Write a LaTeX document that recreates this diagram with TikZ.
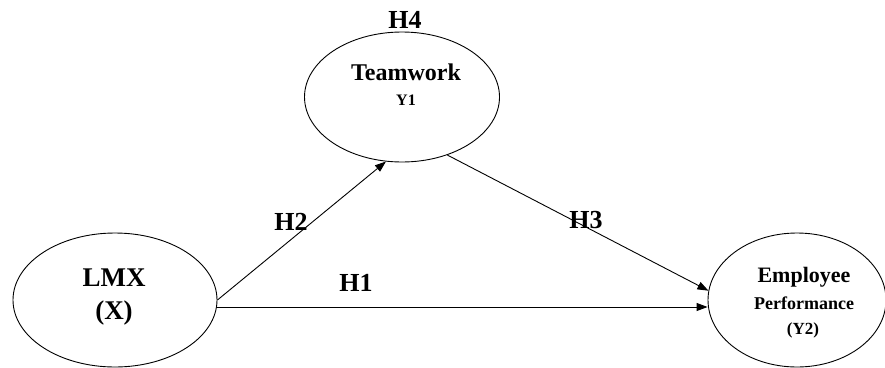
\documentclass[tikz,border=0pt]{standalone}
\usepackage{fontspec}
\setmainfont{Liberation Serif}
\usetikzlibrary{shapes.geometric,arrows.meta}
\begin{document}
\begin{tikzpicture}[x=1pt,y=-1pt,
  latent/.style={draw,ellipse,line width=0.9pt,inner sep=0pt},
  link/.style={line width=0.9pt,-{Triangle[length=11pt,width=8pt]}},
  hyp/.style={font=\bfseries\fontsize{26}{26}\selectfont}]
\useasboundingbox (0,0) rectangle (885,367);
\node[latent,minimum width=195pt,minimum height=130pt] (tw) at (402,97) {};
\node[latent,minimum width=204pt,minimum height=134pt] (lmx) at (115,300) {};
\node[latent,minimum width=178pt,minimum height=134pt] (ep) at (797,300) {};
\node[font=\bfseries\fontsize{24}{24}\selectfont] (twt) at (406,72) {Teamwork};
\node[font=\bfseries\fontsize{16}{16}\selectfont] (twy) at (406,100) {Y1};
\node[font=\bfseries\fontsize{27}{27}\selectfont] (lmxt) at (114,278) {LMX};
\node[font=\bfseries\fontsize{27}{27}\selectfont] (lmxx) at (114,313) {(X)};
\node[font=\bfseries\fontsize{22}{22}\selectfont] (ept) at (804,277) {Employee};
\node[font=\bfseries\fontsize{18}{18}\selectfont] (epp) at (804,303) {Performance};
\node[font=\bfseries\fontsize{17}{17}\selectfont] (epy) at (803,330) {(Y2)};
\node[hyp] (h4) at (405,20) {H4};
\node[hyp] (h2) at (291,222) {H2};
\node[hyp] (h3) at (586,220) {H3};
\node[hyp] (h1) at (356,283) {H1};
\draw[link] (lmx.east |- 0,307) -- (ep.west |- 0,307);
\draw[link] (lmx.east) -- (tw.-104);
\draw[link] (tw.-52) -- (ep.174);
\end{tikzpicture}
\end{document}
